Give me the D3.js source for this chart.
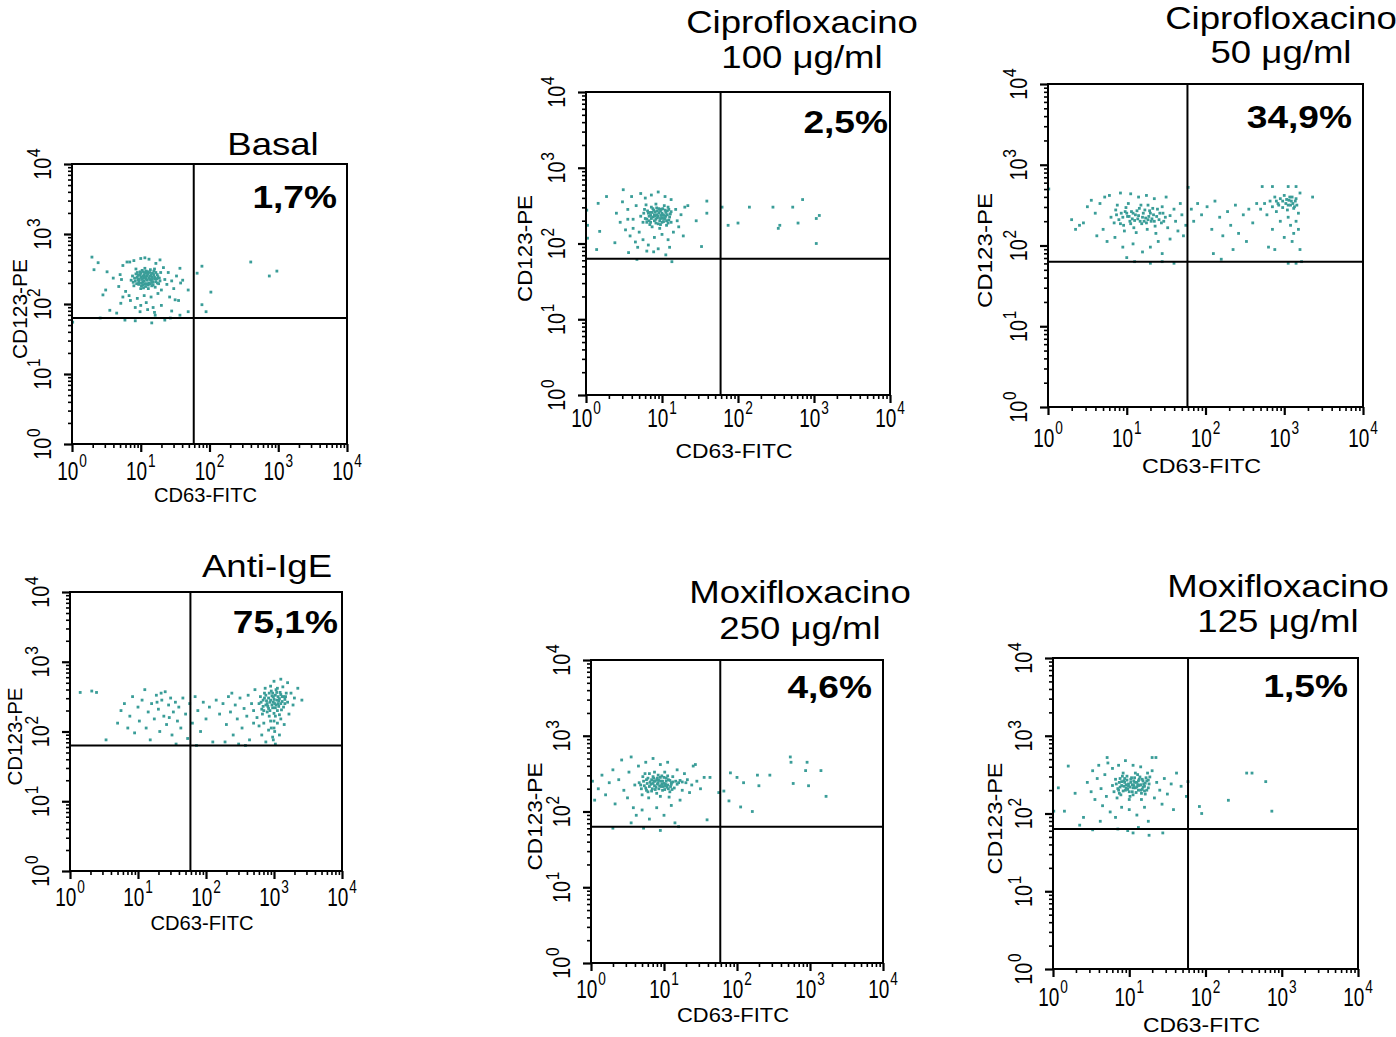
<!DOCTYPE html>
<html>
<head>
<meta charset="utf-8">
<script src="https://cdn.jsdelivr.net/npm/d3@7"></script>
<style>
  body { margin: 0; background: #fff; }
  text { font-family: "Liberation Sans", Arial, sans-serif; fill: #000; }
</style>
</head>
<body>
<div id="display"></div>
<script>
"use strict";

const width = 1396;
const height = 1037;
const dotColor = "#3a9d98";

const decades = [0, 1, 2, 3, 4];
const gate = [59, 63]; // quadrant limits: CD63-FITC, CD123-PE

const titles = [
  ["Basal"],
  ["Ciprofloxacino", "100 \u03bcg/ml"],
  ["Ciprofloxacino", "50 \u03bcg/ml"],
  ["Anti-IgE"],
  ["Moxifloxacino", "250 \u03bcg/ml"],
  ["Moxifloxacino", "125 \u03bcg/ml"]
];
const percentages = ["1,7%", "2,5%", "34,9%", "75,1%", "4,6%", "1,5%"];

// events as log10 intensity: [CD63-FITC, CD123-PE]
const basal = [
  [0.88,2.40],[0.92,2.33],[0.95,2.45],[0.97,2.28],[1.00,2.38],[1.02,2.48],[1.03,2.31],[1.05,2.42],[1.07,2.25],[1.08,2.36],
  [1.10,2.46],[1.12,2.30],[1.13,2.40],[1.15,2.34],[1.17,2.44],[1.18,2.27],[1.20,2.38],[1.22,2.32],[1.24,2.42],[1.26,2.29],
  [0.90,2.26],[0.93,2.50],[0.98,2.35],[1.00,2.22],[1.04,2.37],[1.06,2.51],[1.09,2.40],[1.11,2.22],[1.14,2.49],[1.16,2.38],
  [1.19,2.47],[1.21,2.24],[1.27,2.37],[1.29,2.45],[0.86,2.34],[0.96,2.41],[1.01,2.30],[1.05,2.33],[1.09,2.29],[1.13,2.35],
  [1.07,2.44],[0.99,2.46],[1.23,2.36],[1.16,2.31],[1.03,2.40],
  [0.91,2.37],[0.94,2.29],[0.96,2.35],[0.99,2.42],[1.01,2.26],[1.02,2.35],[1.04,2.46],[1.06,2.29],[1.07,2.39],[1.09,2.34],
  [1.10,2.43],[1.11,2.27],[1.13,2.45],[1.14,2.29],[1.15,2.41],[1.17,2.35],[1.18,2.31],[1.19,2.42],[1.21,2.36],[1.22,2.45],
  [1.24,2.30],[1.25,2.39],[0.95,2.38],[0.97,2.32],[1.00,2.44],[1.03,2.27],[1.05,2.38],[1.08,2.47],[1.12,2.37],[1.16,2.26],
  [0.93,2.43],[1.28,2.33],[1.20,2.50],[1.04,2.23],[0.89,2.31],
  [0.70,2.42],[0.68,2.25],[0.74,2.55],[0.78,2.18],[0.80,2.60],[0.83,2.12],[0.72,2.35],[0.85,2.05],[0.90,2.62],[0.95,2.08],
  [1.00,2.65],[1.05,2.12],[1.08,2.02],[1.12,2.64],[1.15,2.10],[1.18,1.95],[1.22,2.58],[1.25,2.15],[1.30,2.20],[1.33,2.52],
  [1.35,2.35],[1.38,2.28],[1.40,2.45],[1.42,2.10],[1.45,2.33],[1.48,2.22],[1.52,2.40],[1.55,2.05],[1.58,2.30],[1.20,1.88],
  [1.10,1.92],[1.00,1.98],[0.92,1.95],[1.30,1.98],[1.45,1.90],
  [0.29,2.67],[0.38,2.59],[0.32,2.49],[0.51,2.46],[0.60,2.37],[0.49,2.20],[0.45,2.13],[0.71,2.01],[0.65,1.87],[0.74,2.10],
  [0.01,1.74],[0.77,1.77],[0.92,1.76],[1.16,1.73],[1.35,1.77],[1.43,1.80],[1.57,1.84],[1.69,1.89],[1.82,2.44],[1.89,2.54],
  [2.02,2.17],[1.89,1.99],[1.95,1.89],[2.60,2.60],[2.87,2.40],[2.98,2.47],[1.57,2.51],[1.61,2.34],[1.69,2.20],[1.50,2.06],
  [1.06,2.66],[1.28,2.63],[0.84,2.60],[0.55,1.91],[0.99,1.89],[1.21,1.84],[0.41,1.80]
];

const cipro100 = [
  [0.72,2.36],[0.75,2.28],[0.77,2.45],[0.80,2.32],[0.82,2.40],[0.84,2.25],[0.86,2.48],[0.88,2.35],[0.90,2.30],[0.91,2.42],
  [0.93,2.38],[0.95,2.26],[0.96,2.46],[0.98,2.33],[1.00,2.40],[1.02,2.29],[1.03,2.50],[1.05,2.36],[1.07,2.43],[1.09,2.31],
  [1.11,2.39],[0.79,2.51],[0.87,2.22],[0.92,2.52],[0.97,2.20],[1.01,2.46],[1.06,2.24],[0.85,2.37],[0.89,2.44],[0.94,2.34],
  [0.99,2.37],[1.04,2.33],[0.83,2.30],[0.76,2.40],[1.08,2.48],[1.12,2.28],[0.92,2.27],[0.98,2.43],[0.87,2.41],[1.00,2.34],
  [0.78,2.33],[0.81,2.43],[0.83,2.36],[0.85,2.28],[0.88,2.46],[0.90,2.38],[0.92,2.32],[0.94,2.43],[0.95,2.36],[0.97,2.30],
  [0.99,2.45],[1.01,2.38],[1.02,2.33],[1.04,2.44],[1.06,2.30],[1.07,2.38],[1.09,2.45],[1.10,2.35],[0.86,2.33],[0.91,2.36],
  [0.96,2.40],[1.00,2.28],[1.03,2.37],[1.05,2.41],[0.93,2.47],[0.84,2.41],[0.98,2.25],[1.08,2.27],[0.80,2.28],[1.12,2.42],
  [0.40,2.40],[0.45,2.28],[0.48,2.55],[0.52,2.18],[0.55,2.45],[0.58,2.10],[0.60,2.62],[0.62,2.32],[0.65,2.02],[0.66,2.50],
  [0.70,2.15],[0.72,2.66],[0.75,2.05],[0.78,2.60],[0.82,1.98],[0.86,2.64],[0.90,2.08],[0.95,2.68],[1.00,2.12],[1.04,2.62],
  [1.08,2.05],[1.12,2.58],[1.15,2.15],[1.18,2.45],[1.20,2.30],[1.22,2.22],[1.25,2.38],[1.28,2.10],[1.30,2.48],[0.68,1.95],
  [0.80,1.90],[0.95,1.93],[1.10,1.95],[0.55,2.32],[0.62,2.20],
  [1.59,2.56],[1.59,2.40],[1.52,1.96],[1.79,2.48],[1.87,2.24],[2.00,2.27],[2.15,2.48],[2.46,2.48],[2.53,2.20],[2.55,2.24],
  [2.72,2.48],[2.79,2.27],[2.85,2.58],[3.03,2.33],[3.07,2.37],[3.03,2.00],[1.45,2.30],[1.34,2.50],[0.01,2.44],[0.02,2.24],
  [0.02,2.07],[0.14,1.92],[0.16,2.53],[0.18,2.16],[0.27,2.62],[0.49,2.71],[0.67,1.79],[1.13,1.76],[0.89,1.89],[1.05,1.85],
  [0.56,1.88],[0.38,2.01]
];

const cipro50 = [
  [0.80,2.35],[0.84,2.28],[0.86,2.44],[0.90,2.32],[0.93,2.40],[0.96,2.25],[0.99,2.47],[1.01,2.36],[1.04,2.30],[1.06,2.42],
  [1.09,2.22],[1.11,2.38],[1.14,2.33],[1.16,2.46],[1.19,2.27],[1.21,2.40],[1.24,2.34],[1.26,2.20],[1.29,2.43],[1.31,2.30],
  [1.34,2.38],[1.36,2.24],[1.39,2.45],[1.41,2.32],[1.44,2.28],[1.46,2.40],[1.49,2.35],[0.88,2.50],[0.97,2.18],[1.02,2.52],
  [1.12,2.16],[1.18,2.50],[1.27,2.50],[1.37,2.15],[1.45,2.48],[1.52,2.22],[1.55,2.37],[1.00,2.40],[1.22,2.30],[1.33,2.46],
  [0.87,2.38],[0.92,2.27],[0.95,2.35],[0.98,2.42],[1.03,2.36],[1.05,2.27],[1.08,2.40],[1.10,2.31],[1.13,2.43],[1.15,2.37],
  [1.17,2.30],[1.20,2.35],[1.23,2.44],[1.25,2.28],[1.28,2.36],[1.30,2.40],[1.32,2.33],[1.35,2.30],[1.38,2.36],[1.42,2.40],
  [1.47,2.30],[1.07,2.33],[1.27,2.32],
  [0.30,2.32],[0.40,2.25],[0.45,2.28],[0.50,2.48],[0.55,2.56],[0.60,2.40],[0.62,2.12],[0.66,2.52],[0.70,2.20],[0.72,2.60],
  [0.75,2.05],[0.78,2.62],[0.85,2.10],[0.92,2.65],[0.95,1.98],[1.05,2.64],[1.08,2.02],[1.15,2.60],[1.20,1.92],[1.25,2.62],
  [1.30,1.98],[1.35,2.58],[1.40,2.05],[1.45,1.90],[1.50,2.60],[1.55,2.08],[1.60,2.45],[1.62,2.30],[1.65,2.18],[1.68,2.52],
  [1.70,2.38],[1.72,2.12],[1.75,2.25],[1.10,1.80],[1.30,1.78],[1.45,1.80],[1.60,1.78],[1.00,1.85],[0.35,2.20],[0.01,2.70],
  [1.82,2.45],[1.85,2.30],[1.90,2.52],[1.95,2.38],[2.02,2.48],[2.08,2.20],[2.12,2.55],[2.18,2.35],[2.22,2.12],[2.28,2.42],
  [2.32,2.25],[2.38,2.50],[2.42,2.15],[2.48,2.38],[2.52,2.05],[2.55,2.45],[2.60,2.28],[2.65,2.52],[2.10,1.90],[2.35,1.95],
  [1.78,2.72],[2.20,1.83],
  [2.70,2.45],[2.75,2.52],[2.78,2.38],[2.82,2.55],[2.85,2.48],[2.88,2.60],[2.90,2.42],[2.92,2.52],[2.95,2.58],[2.98,2.47],
  [3.00,2.62],[3.02,2.52],[3.04,2.44],[3.06,2.56],[3.08,2.50],[3.10,2.60],[3.12,2.46],[3.14,2.55],[3.16,2.50],[3.18,2.40],
  [3.05,2.35],[3.08,2.25],[3.12,2.15],[3.15,2.30],[3.10,2.05],[3.18,2.20],[3.20,1.95],[3.00,2.10],[2.95,2.30],[2.85,2.20],
  [2.80,1.98],[2.88,1.95],[3.05,1.78],[3.15,1.78],[3.22,1.80],[2.72,2.73],[2.85,2.73],[3.05,2.73],[3.15,2.73],[3.36,2.60],
  [3.20,2.65],[3.05,2.50],[3.09,2.55],[3.11,2.52],[3.13,2.48],[3.07,2.60],[3.15,2.58],[3.03,2.57],[2.98,2.55],[2.93,2.50],
  [2.90,2.55]
];

const antiIgE = [
  [0.70,2.12],[0.75,2.30],[0.80,2.40],[0.85,2.05],[0.88,2.22],[0.92,2.50],[0.95,1.98],[1.00,2.35],[1.02,2.15],[1.06,2.45],
  [1.10,2.60],[1.12,2.05],[1.15,2.28],[1.18,1.88],[1.20,2.40],[1.24,2.18],[1.27,2.52],[1.30,2.32],[1.32,2.00],[1.35,2.45],
  [1.38,2.22],[1.40,2.57],[1.42,2.10],[1.45,2.38],[1.48,2.48],[1.50,1.95],[1.52,2.28],[1.55,2.42],[1.58,2.15],[1.60,2.35],
  [1.63,2.05],[1.66,2.48],[1.70,2.25],[1.73,1.90],[1.76,2.40],[1.80,2.12],[1.84,2.50],[1.88,2.30],[1.92,2.00],[1.96,2.42],
  [2.00,2.18],[2.05,2.35],[2.10,1.85],[2.15,2.45],[2.20,2.25],[1.28,2.42],[1.34,2.55],[1.46,2.20],[1.56,1.82],[1.86,1.80],
  [2.25,2.40],[2.30,2.10],[2.33,2.50],[2.36,2.28],[2.40,1.95],[2.43,2.38],[2.46,2.18],[2.50,2.48],[2.53,2.05],[2.56,2.33],
  [2.60,2.22],[2.62,2.52],[2.64,1.88],[2.67,2.40],[2.70,2.12],[2.48,1.82],[2.58,1.80],[2.38,2.55],[2.28,1.85],
  [2.78,2.40],[2.80,2.50],[2.82,2.32],[2.84,2.45],[2.86,2.55],[2.88,2.38],[2.90,2.28],[2.92,2.48],[2.94,2.42],[2.96,2.58],
  [2.98,2.34],[3.00,2.46],[3.02,2.52],[3.03,2.38],[3.05,2.30],[3.07,2.44],[3.09,2.56],[3.10,2.40],[3.12,2.50],[3.14,2.35],
  [3.16,2.46],[3.18,2.55],[3.20,2.42],[2.87,2.62],[2.95,2.65],[3.05,2.62],[3.13,2.64],[2.83,2.25],[2.93,2.22],[3.00,2.26],
  [3.08,2.24],[2.91,2.36],[2.99,2.42],[3.06,2.50],[2.89,2.44],[3.11,2.31],[2.97,2.51],[3.04,2.45],
  [2.81,2.42],[2.84,2.36],[2.86,2.48],[2.88,2.52],[2.90,2.40],[2.92,2.33],[2.93,2.55],[2.95,2.45],[2.97,2.38],[2.99,2.50],
  [3.01,2.40],[3.02,2.34],[3.04,2.56],[3.06,2.40],[3.08,2.47],[3.10,2.53],[3.12,2.43],[3.14,2.50],[3.16,2.40],[3.17,2.50],
  [2.94,2.30],[3.03,2.60],[2.98,2.55],[3.07,2.36],[2.85,2.30],[3.00,2.15],[3.01,2.00],[2.99,1.88],[3.02,2.22],[2.96,2.05],
  [2.72,2.60],[2.75,2.20],[2.78,2.08],[2.82,1.95],[2.85,2.12],[2.88,1.85],[2.92,2.02],[2.95,2.15],[2.98,1.92],[3.00,2.05],
  [3.02,1.82],[3.05,2.12],[3.08,1.95],[3.10,2.18],[3.15,2.10],[3.22,2.25],[3.25,2.55],[3.28,2.38],[3.30,2.48],[3.20,2.70],
  [3.10,2.75],[3.00,2.72],[3.41,2.45],[3.35,2.62],[2.70,2.30],
  [0.15,2.56],[0.32,2.58],[0.39,2.56],[0.53,1.88]
];

const moxi250 = [
  [0.66,2.38],[0.69,2.30],[0.71,2.46],[0.73,2.34],[0.76,2.42],[0.78,2.26],[0.80,2.50],[0.82,2.36],[0.84,2.30],[0.86,2.44],
  [0.88,2.40],[0.90,2.24],[0.92,2.48],[0.94,2.34],[0.96,2.40],[0.98,2.28],[1.00,2.45],[1.02,2.36],[1.04,2.32],[1.06,2.42],
  [1.08,2.26],[1.10,2.38],[1.12,2.46],[1.14,2.31],[0.70,2.22],[0.79,2.18],[0.87,2.52],[0.95,2.20],[1.01,2.52],[1.07,2.19],
  [0.74,2.50],[0.83,2.42],[0.89,2.32],[0.93,2.41],[0.97,2.36],[1.03,2.40],[0.85,2.37],[0.91,2.44],[0.99,2.33],[0.77,2.37],
  [1.05,2.47],[1.09,2.33],[1.16,2.40],[1.20,2.38],[1.25,2.39],[1.30,2.38],
  [0.68,2.35],[0.72,2.40],[0.75,2.31],[0.78,2.44],[0.80,2.33],[0.81,2.39],[0.83,2.27],[0.85,2.46],[0.87,2.34],[0.88,2.29],
  [0.90,2.42],[0.91,2.36],[0.93,2.30],[0.95,2.45],[0.96,2.33],[0.98,2.40],[1.00,2.37],[1.01,2.29],[1.03,2.44],[1.05,2.35],
  [1.06,2.30],[1.08,2.41],[1.10,2.36],[1.12,2.39],[0.86,2.40],[0.92,2.38],[0.97,2.47],[1.02,2.34],[0.76,2.28],[1.11,2.29],
  [1.18,2.36],[1.22,2.41],
  [0.02,2.40],[0.05,2.15],[0.10,2.30],[0.15,2.48],[0.20,2.22],[0.25,2.38],[0.30,2.55],[0.33,2.10],[0.38,2.42],[0.42,2.68],
  [0.45,2.28],[0.50,2.18],[0.52,2.52],[0.55,2.72],[0.58,2.05],[0.60,2.35],[0.62,1.95],[0.65,2.60],[0.70,2.02],[0.75,2.65],
  [0.80,1.90],[0.85,2.70],[0.90,2.05],[0.95,2.62],[1.00,1.95],[1.05,2.65],[1.10,2.08],[1.15,1.85],[1.18,2.55],[1.22,2.15],
  [1.25,2.28],[1.28,2.50],[1.32,2.42],[1.35,2.25],[1.38,2.35],[1.45,2.40],[1.50,2.30],[1.55,2.45],[0.72,1.78],[0.95,1.75],
  [1.20,1.80],[0.30,1.78],[0.55,1.85],
  [1.40,2.60],[1.43,2.62],[1.63,2.45],[1.75,2.25],[1.82,2.27],[1.91,2.51],[2.00,2.45],[2.09,2.38],[2.28,2.48],[2.30,2.34],
  [2.45,2.48],[2.05,2.06],[2.21,2.00],[1.89,2.14],[2.73,2.72],[2.74,2.65],[2.77,2.37],[2.96,2.65],[2.98,2.34],[3.15,2.54],
  [3.22,2.20],[2.94,2.54],[1.59,1.89]
];

const moxi125 = [
  [0.78,2.36],[0.80,2.28],[0.82,2.44],[0.85,2.32],[0.87,2.40],[0.89,2.24],[0.91,2.48],[0.93,2.35],[0.95,2.30],[0.97,2.43],
  [0.99,2.38],[1.01,2.22],[1.03,2.46],[1.05,2.33],[1.07,2.40],[1.09,2.27],[1.11,2.50],[1.13,2.36],[1.15,2.30],[1.17,2.44],
  [1.19,2.38],[1.21,2.25],[1.23,2.42],[1.25,2.33],[1.27,2.47],[0.84,2.20],[0.92,2.52],[1.00,2.18],[1.08,2.52],[1.16,2.18],
  [1.24,2.52],[0.88,2.34],[0.96,2.37],[1.02,2.40],[1.06,2.36],[1.12,2.42],[1.18,2.34],[0.90,2.41],[0.98,2.31],[1.04,2.28],
  [1.10,2.34],[1.14,2.47],[1.20,2.29],[0.94,2.45],[1.26,2.38],
  [0.83,2.38],[0.86,2.30],[0.88,2.45],[0.90,2.36],[0.92,2.29],[0.94,2.40],[0.96,2.33],[0.97,2.48],[0.99,2.35],[1.00,2.28],
  [1.02,2.44],[1.04,2.37],[1.05,2.24],[1.07,2.46],[1.08,2.33],[1.10,2.40],[1.12,2.30],[1.13,2.44],[1.15,2.37],[1.16,2.26],
  [1.18,2.42],[1.20,2.35],[1.22,2.46],[1.23,2.30],[0.93,2.42],[1.01,2.34],[1.06,2.42],[1.11,2.37],[1.17,2.31],[0.87,2.26],
  [1.25,2.43],[1.21,2.39],
  [0.45,2.40],[0.50,2.28],[0.52,2.55],[0.55,2.18],[0.58,2.45],[0.60,2.62],[0.63,2.32],[0.65,2.10],[0.68,2.50],[0.70,2.22],
  [0.72,2.65],[0.75,2.02],[0.78,2.58],[0.82,1.95],[0.86,2.62],[0.90,2.08],[0.95,2.68],[1.00,2.05],[1.05,2.62],[1.10,1.98],
  [1.15,2.60],[1.20,2.08],[1.25,1.90],[1.30,2.55],[1.33,2.20],[1.36,2.40],[1.40,2.30],[1.43,2.12],[1.46,2.45],[1.50,2.25],
  [1.55,2.38],[1.58,2.05],[0.85,1.80],[0.98,1.78],[1.12,1.82],[1.05,1.75],[0.62,1.90],
  [1.35,2.72],[1.62,2.52],[1.68,2.35],[1.77,2.41],[1.75,2.22],[1.92,2.09],[1.95,2.00],[2.30,2.17],[2.54,2.52],[2.61,2.52],
  [2.79,2.41],[2.87,2.03],[1.44,1.75],[1.26,1.72],[0.52,1.79],[0.40,1.95],[0.35,1.85],[0.15,2.03],[0.01,2.03],[0.20,2.61],
  [0.07,2.33],[0.29,2.26],[0.71,2.72],[1.30,2.72]
];

const events = [basal, cipro100, cipro50, antiIgE, moxi250, moxi125];

// layout of each panel, measured on the page
const panels = [
  { left: 72,   right: 347,  bottom: 444, top: 164, titleX: 273,  titleY: [155],      pctX: 337,  pctY: 208, labDy: 36, xtDy: 58, xtLen: 103, ytDx: -45, ytLen: 100 },
  { left: 586,  right: 890,  bottom: 395, top: 92,  titleX: 802,  titleY: [33, 68],   pctX: 888,  pctY: 133, labDy: 32, xtDy: 63, xtLen: 117, ytDx: -54, ytLen: 107 },
  { left: 1048, right: 1363, bottom: 407, top: 84,  titleX: 1281, titleY: [29, 63],   pctX: 1352, pctY: 128, labDy: 40, xtDy: 66, xtLen: 119, ytDx: -56, ytLen: 115 },
  { left: 70,   right: 342,  bottom: 871, top: 592, titleX: 267,  titleY: [577],      pctX: 338,  pctY: 633, labDy: 35, xtDy: 59, xtLen: 103, ytDx: -48, ytLen: 98 },
  { left: 591,  right: 883,  bottom: 963, top: 660, titleX: 800,  titleY: [603, 639], pctX: 872,  pctY: 698, labDy: 35, xtDy: 59, xtLen: 112, ytDx: -49, ytLen: 108 },
  { left: 1053, right: 1358, bottom: 969, top: 658, titleX: 1278, titleY: [597, 632], pctX: 1348, pctY: 697, labDy: 37, xtDy: 63, xtLen: 117, ytDx: -51, ytLen: 112 }
];

const svg = d3.select("#display").append("svg")
  .attr("width", width)
  .attr("height", height);

function stretched(g, txt, x, y, size, sx, anchor, weight) {
  return g.append("text")
    .attr("transform", "translate(" + x + "," + y + ") scale(" + sx + ",1)")
    .attr("text-anchor", anchor)
    .style("font-size", size + "px")
    .style("font-weight", weight || "normal")
    .text(txt);
}

function power(g, exp, transform, baseSize, supSize, raise) {
  const t = g.append("text")
    .attr("transform", transform)
    .attr("text-anchor", "middle");
  t.append("tspan").style("font-size", baseSize + "px").text("10");
  t.append("tspan").style("font-size", supSize + "px").attr("dx", 1).attr("dy", -raise).text(exp);
  return t;
}

function isDecade(v) {
  const l = Math.log10(v);
  return Math.abs(l - Math.round(l)) < 1e-6;
}

function drawPanel(p, i) {
  const g = svg.append("g").attr("class", "panel");

  const x = d3.scaleLog().domain([1, 1e4]).range([p.left, p.right]);
  const y = d3.scaleLog().domain([1, 1e4]).range([p.bottom, p.top]);

  const major = decades.map(d => Math.pow(10, d));
  const minor = x.ticks().filter(v => !isDecade(v));

  // dots
  g.append("g")
    .selectAll("rect")
    .data(events[i])
    .join("rect")
    .attr("x", d => x(Math.pow(10, d[0])) - 1.4)
    .attr("y", d => y(Math.pow(10, d[1])) - 1.4)
    .attr("width", 2.8)
    .attr("height", 2.8)
    .attr("fill", dotColor);

  // ticks
  const axes = [
    [d3.axisBottom(x), "translate(0," + p.bottom + ")"],
    [d3.axisLeft(y), "translate(" + p.left + ",0)"]
  ];
  axes.forEach(function(a) {
    g.append("g")
      .attr("transform", a[1])
      .call(a[0].tickValues(minor).tickSize(4).tickFormat(""))
      .call(s => s.select(".domain").remove())
      .selectAll("line").attr("stroke-width", 1.6);
    g.append("g")
      .attr("transform", a[1])
      .call(a[0].tickValues(major).tickSize(8).tickFormat(""))
      .call(s => s.select(".domain").remove())
      .selectAll("line").attr("stroke-width", 2.2);
  });

  // tick labels
  decades.forEach(function(d) {
    const v = Math.pow(10, d);
    power(g, d, "translate(" + x(v) + "," + (p.bottom + p.labDy) + ") scale(0.76,1)", 25, 18, 13);
    power(g, d, "translate(" + (p.left - 21) + "," + y(v) + ") rotate(-90) scale(0.86,1)", 23, 18, 11);
  });

  // quadrant lines
  g.append("line")
    .attr("x1", x(gate[0])).attr("x2", x(gate[0]))
    .attr("y1", p.top).attr("y2", p.bottom)
    .attr("stroke", "#000").attr("stroke-width", 2);
  g.append("line")
    .attr("x1", p.left).attr("x2", p.right)
    .attr("y1", y(gate[1])).attr("y2", y(gate[1]))
    .attr("stroke", "#000").attr("stroke-width", 2);

  // frame
  g.append("rect")
    .attr("x", p.left).attr("y", p.top)
    .attr("width", p.right - p.left).attr("height", p.bottom - p.top)
    .attr("fill", "none").attr("stroke", "#000").attr("stroke-width", 2);

  // axis titles
  g.append("text")
    .attr("x", (p.left + p.right) / 2 - 4)
    .attr("y", p.bottom + p.xtDy)
    .attr("text-anchor", "middle")
    .attr("textLength", p.xtLen)
    .attr("lengthAdjust", "spacingAndGlyphs")
    .style("font-size", "21px")
    .text("CD63-FITC");
  g.append("text")
    .attr("transform", "translate(" + (p.left + p.ytDx) + "," + ((p.top + p.bottom) / 2 + 5) + ") rotate(-90)")
    .attr("text-anchor", "middle")
    .attr("textLength", p.ytLen)
    .attr("lengthAdjust", "spacingAndGlyphs")
    .style("font-size", "21px")
    .text("CD123-PE");

  // title and percentage
  titles[i].forEach(function(line, k) {
    stretched(g, line, p.titleX, p.titleY[k], 31, 1.18, "middle");
  });
  stretched(g, percentages[i], p.pctX, p.pctY, 32, 1.16, "end", "bold");
}

panels.forEach(drawPanel);
</script>
</body>
</html>
